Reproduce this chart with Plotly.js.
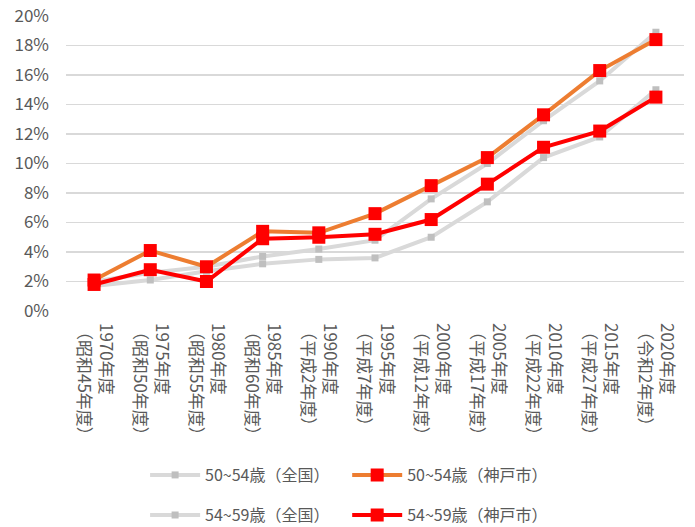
<!DOCTYPE html>
<html>
<head>
<meta charset="utf-8">
<script src="https://cdn.plot.ly/plotly-3.0.1.min.js"></script>
<style>
html,body{margin:0;padding:0;background:#fff;}
#chart{width:695px;height:527px;}
</style>
</head>
<body>
<div id="chart"></div>
<script>
var categories = [
  "1970年度<br>（昭和45年度）",
  "1975年度<br>（昭和50年度）",
  "1980年度<br>（昭和55年度）",
  "1985年度<br>（昭和60年度）",
  "1990年度<br>（平成2年度）",
  "1995年度<br>（平成7年度）",
  "2000年度<br>（平成12年度）",
  "2005年度<br>（平成17年度）",
  "2010年度<br>（平成22年度）",
  "2015年度<br>（平成27年度）",
  "2020年度<br>（令和2年度）"
];
var national5054 = [0.020, 0.026, 0.030, 0.037, 0.042, 0.048, 0.076, 0.100, 0.129, 0.156, 0.189];
var kobe5054     = [0.021, 0.041, 0.030, 0.054, 0.053, 0.066, 0.085, 0.104, 0.133, 0.163, 0.184];
var national5459 = [0.017, 0.021, 0.027, 0.032, 0.035, 0.036, 0.050, 0.074, 0.104, 0.118, 0.150];
var kobe5459     = [0.018, 0.028, 0.020, 0.049, 0.050, 0.052, 0.062, 0.086, 0.111, 0.122, 0.145];
var seriesNames = ["50~54歳（全国）", "50~54歳（神戸市）", "54~59歳（全国）", "54~59歳（神戸市）"];

var FONT = '"Noto Sans CJK JP", "Noto Sans", sans-serif';
var TXT = '#595959';

function grey(y, name, lg) {
  return {x: categories, y: y, name: name, type: 'scatter', mode: 'lines+markers',
    line: {color: '#d9d9d9', width: 4},
    marker: {symbol: 'square', size: 7, color: '#bfbfbf'},
    legend: lg, hoverinfo: 'y'};
}
function red(y, name, lc, lg) {
  return {x: categories, y: y, name: name, type: 'scatter', mode: 'lines+markers',
    line: {color: lc, width: 4},
    marker: {symbol: 'square', size: 13, color: '#ff0000'},
    legend: lg, hoverinfo: 'y'};
}

var data = [
  grey(national5054, seriesNames[0], 'legend'),
  grey(national5459, seriesNames[2], 'legend3'),
  red(kobe5054, seriesNames[1], '#ed7d31', 'legend2'),
  red(kobe5459, seriesNames[3], '#ff0000', 'legend4')
];

function lg(x, y) {
  return {x: x, y: y, xanchor: 'left', yanchor: 'middle', orientation: 'h',
    itemwidth: 50, font: {family: FONT, size: 16, color: TXT},
    bgcolor: 'rgba(0,0,0,0)', borderwidth: 0};
}

var layout = {
  width: 695, height: 527,
  margin: {l: 66, r: 11, t: 16, b: 216, autoexpand: false},
  paper_bgcolor: '#fff', plot_bgcolor: '#fff',
  font: {family: FONT, size: 16, color: TXT},
  showlegend: true,
  legend: lg(0.128, -0.556),
  legend2: lg(0.455, -0.556),
  legend3: lg(0.128, -0.692),
  legend4: lg(0.455, -0.692),
  xaxis: {
    type: 'category', range: [-0.5, 10.5],
    tickangle: 90, showgrid: false, showline: false, zeroline: false,
    ticks: '', tickfont: {family: FONT, size: 17, color: TXT},
    ticklabelstandoff: 11,
    automargin: false
  },
  yaxis: {
    range: [0, 0.2], dtick: 0.02, tickformat: '.0%',
    showgrid: true, gridcolor: '#d9d9d9', gridwidth: 1.5,
    zeroline: false, showline: false, ticks: '',
    ticklabelstandoff: 16,
    tickfont: {family: FONT, size: 17, color: TXT},
    automargin: false
  }
};

Plotly.newPlot('chart', data, layout, {displayModeBar: false, staticPlot: true});
</script>
</body>
</html>
